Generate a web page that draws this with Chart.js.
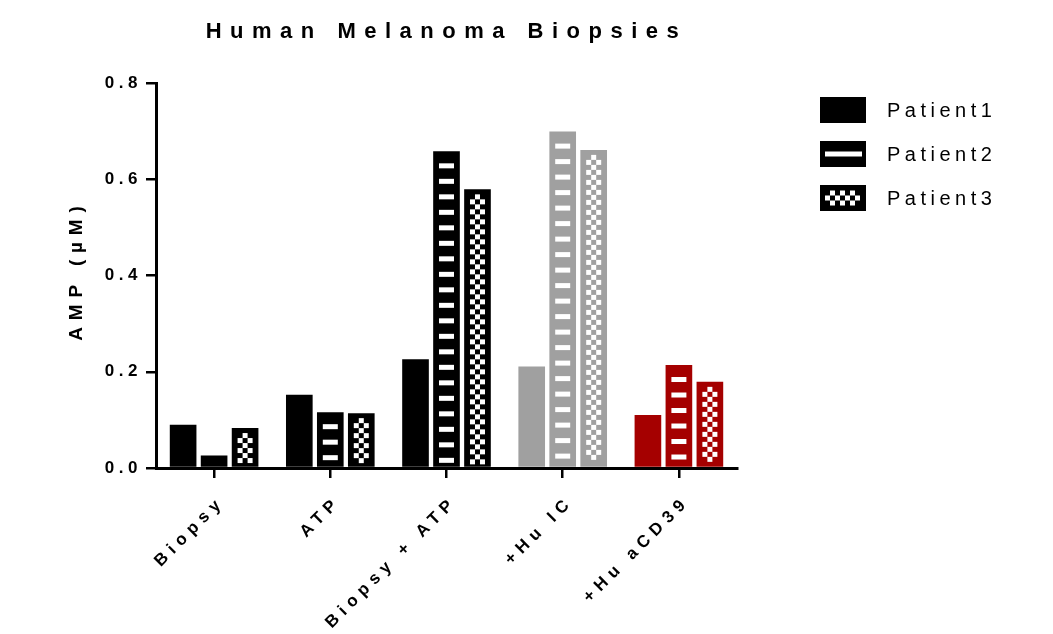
<!DOCTYPE html>
<html>
<head>
<meta charset="utf-8">
<script src="https://cdn.jsdelivr.net/npm/chart.js@4.4.1/dist/chart.umd.min.js"></script>
<style>
  html, body { margin: 0; padding: 0; background: #fff; }
  #wrap { width: 1053px; height: 634px; }
</style>
</head>
<body>
<div id="wrap"><canvas id="c" width="1053" height="634"></canvas></div>
<script>
// AMP measured in three patients' melanoma biopsies under five conditions
const categories = ['Biopsy', 'ATP', 'Biopsy + ATP', '+Hu IC', '+Hu aCD39'];
const patient1 = [0.090, 0.152, 0.226, 0.211, 0.110];
const patient2 = [0.026, 0.116, 0.658, 0.699, 0.214];
const patient3 = [0.083, 0.114, 0.579, 0.661, 0.179];
const seriesNames = ['Patient1', 'Patient2', 'Patient3'];
const yTickValues = [0, 0.2, 0.4, 0.6, 0.8];
const chartTitle = 'Human Melanoma Biopsies';
const yAxisTitle = 'AMP (\u00b5M)';

// one fill colour per condition group
const groupColors = ['#000000', '#000000', '#000000', '#a0a0a0', '#a50000'];

const FONT = "'Liberation Sans', Arial, sans-serif";
const Y_TICK_SPACING = '4.5px';
const X_TICK_SPACING = '5.8px';

// white fill marks that give Patient2 (dashes) and Patient3 (checks) their texture
function drawDashes(ctx, left, top, width, bottom) {
  const w = 15, h = 5, step = 15.5;
  const x0 = left + (width - w) / 2;
  for (let t = top + 12; t + h <= bottom - 2; t += step) ctx.fillRect(x0, t, w, h);
}
function drawChecks(ctx, left, top, width, bottom) {
  const cw = 5, ch = 5;
  const x0 = left + (width - 3 * cw) / 2;
  let row = 0;
  for (let t = top + 5; t + ch <= bottom - 2; t += ch, row++) {
    if (row % 2 === 0) {
      ctx.fillRect(x0 + cw, t, cw, ch);
    } else {
      ctx.fillRect(x0, t, cw, ch);
      ctx.fillRect(x0 + 2 * cw, t, cw, ch);
    }
  }
}

const patternPlugin = {
  id: 'barPatterns',
  afterDatasetsDraw(chart) {
    const ctx = chart.ctx;
    ctx.save();
    ctx.fillStyle = '#ffffff';
    [1, 2].forEach(di => {
      chart.getDatasetMeta(di).data.forEach(bar => {
        const p = bar.getProps(['x', 'y', 'base', 'width'], true);
        const left = p.x - p.width / 2;
        if (di === 1) drawDashes(ctx, left, p.y, p.width, p.base);
        else drawChecks(ctx, left, p.y, p.width, p.base);
      });
    });
    ctx.restore();
  }
};

// tick text is drawn letter-spaced; the category axis a little wider than the value axis
function spaceLabels(scale, spacing) {
  if (scale._spacedLabels) return;
  const draw = scale.drawLabels;
  scale.drawLabels = function (area) {
    const ctx = this.ctx;
    ctx.save();
    ctx.letterSpacing = spacing;
    draw.call(this, area);
    ctx.restore();
  };
  scale._spacedLabels = true;
}
const spacingPlugin = {
  id: 'tickSpacing',
  beforeLayout(chart) { chart.ctx.letterSpacing = Y_TICK_SPACING; },
  afterLayout(chart) {
    spaceLabels(chart.scales.x, X_TICK_SPACING);
    spaceLabels(chart.scales.y, Y_TICK_SPACING);
  }
};

// title, rotated axis title and patterned legend
const decorPlugin = {
  id: 'decor',
  afterDraw(chart) {
    const ctx = chart.ctx;
    const area = chart.chartArea;

    ctx.save();
    ctx.fillStyle = '#000';
    ctx.letterSpacing = '8.5px';
    ctx.font = 'bold 22px ' + FONT;
    ctx.textAlign = 'center';
    ctx.textBaseline = 'alphabetic';
    ctx.fillText(chartTitle, (area.left + area.right) / 2, 38);
    ctx.restore();

    ctx.save();
    ctx.fillStyle = '#000';
    ctx.letterSpacing = '6.8px';
    ctx.font = 'bold 19px ' + FONT;
    ctx.translate(77, (area.top + area.bottom) / 2 - 2);
    ctx.rotate(-Math.PI / 2);
    ctx.textAlign = 'center';
    ctx.textBaseline = 'middle';
    ctx.fillText(yAxisTitle, 3.4, 0);
    ctx.restore();

    ctx.save();
    const bx = 820, bw = 46, bh = 26;
    seriesNames.forEach((name, i) => {
      const cy = 110 + i * 44;
      const by = cy - bh / 2;
      ctx.fillStyle = '#000';
      ctx.fillRect(bx, by, bw, bh);
      ctx.fillStyle = '#fff';
      if (i === 1) {
        ctx.fillRect(bx + 5, cy - 2.5, bw - 9, 5);
      } else if (i === 2) {
        const cw = 5, ch = 5;
        const y0 = cy - 1.5 * ch;
        let col = 0;
        for (let x = bx + 5; x + cw <= bx + bw - 4; x += cw, col++) {
          if (col % 2 === 0) ctx.fillRect(x, y0 + ch, cw, ch);
          else { ctx.fillRect(x, y0, cw, ch); ctx.fillRect(x, y0 + 2 * ch, cw, ch); }
        }
      }
      ctx.fillStyle = '#000';
      ctx.letterSpacing = '4.5px';
      ctx.font = '20px ' + FONT;
      ctx.textAlign = 'left';
      ctx.textBaseline = 'middle';
      ctx.fillText(name, 887, cy + 1);
    });
    ctx.restore();
  }
};

const tickFont = { family: FONT, size: 17, weight: 'bold' };

new Chart(document.getElementById('c'), {
  type: 'bar',
  data: {
    labels: categories,
    datasets: [
      { label: seriesNames[0], data: patient1, backgroundColor: groupColors },
      { label: seriesNames[1], data: patient2, backgroundColor: groupColors },
      { label: seriesNames[2], data: patient3, backgroundColor: groupColors }
    ]
  },
  options: {
    responsive: false,
    animation: false,
    devicePixelRatio: 1,
    layout: { padding: { top: 83, right: 316, left: 0, bottom: 0 } },
    datasets: { bar: { categoryPercentage: 0.8, barPercentage: 0.86, borderWidth: 0 } },
    plugins: {
      legend: { display: false },
      title: { display: false },
      tooltip: { enabled: false }
    },
    scales: {
      x: {
        offset: true,
        grid: { display: true, offset: false, drawOnChartArea: false, drawTicks: true, tickLength: 10, color: '#000', lineWidth: 2.5 },
        border: { display: true, color: '#000', width: 3 },
        ticks: { minRotation: 45, maxRotation: 45, autoSkip: false, color: '#000', font: tickFont, padding: 14, labelOffset: 8 },
        afterFit(scale) { scale.height = 166; }
      },
      y: {
        min: 0,
        max: 0.8,
        afterBuildTicks(scale) { scale.ticks = yTickValues.map(v => ({ value: v })); },
        grid: { display: true, drawOnChartArea: false, drawTicks: true, tickLength: 10, color: '#000', lineWidth: 2.5 },
        border: { display: true, color: '#000', width: 3 },
        ticks: { color: '#000', font: tickFont, padding: 4, callback: v => Number(v).toFixed(1) },
        afterFit(scale) { scale.width = 156; }
      }
    }
  },
  plugins: [spacingPlugin, patternPlugin, decorPlugin]
});
</script>
</body>
</html>
